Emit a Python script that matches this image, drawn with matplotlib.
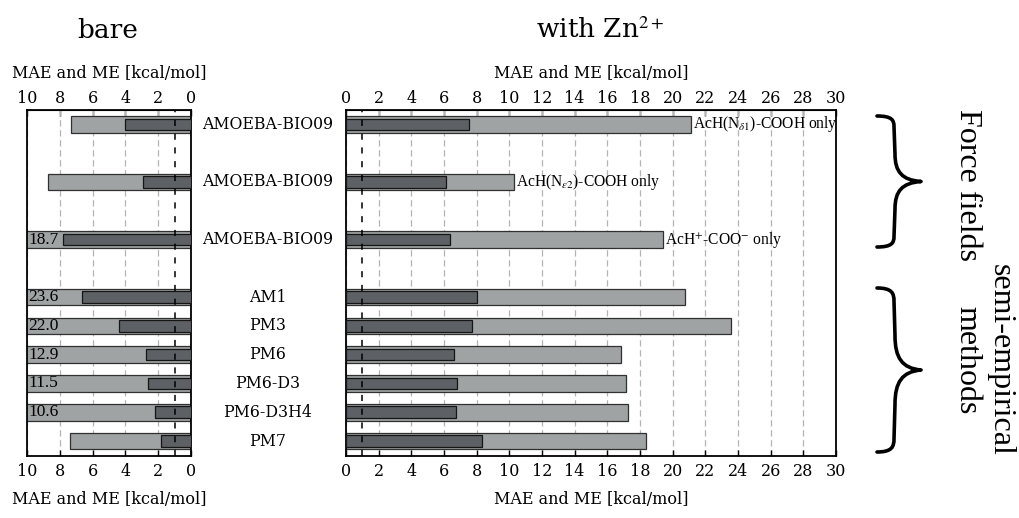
import matplotlib
matplotlib.use("Agg")
import matplotlib.pyplot as plt
from matplotlib.path import Path
from matplotlib.patches import PathPatch
from matplotlib.transforms import blended_transform_factory

# ---- data ---------------------------------------------------------------
methods = ["AMOEBA-BIO09", "AMOEBA-BIO09", "AMOEBA-BIO09",
           "AM1", "PM3", "PM6", "PM6-D3", "PM6-D3H4", "PM7"]
# vertical slot of each method (force fields get double spacing)
slots = [11, 9, 7, 5, 4, 3, 2, 1, 0]

bare_mae = [7.3, 8.7, 18.7, 23.6, 22.0, 12.9, 11.5, 10.6, 7.35]
bare_me = [4.0, 2.95, 7.8, 6.65, 4.4, 2.75, 2.6, 2.2, 1.8]

zn_mae = [21.1, 10.3, 19.4, 20.75, 23.55, 16.85, 17.15, 17.25, 18.35]
zn_me = [7.5, 6.15, 6.35, 8.0, 7.7, 6.6, 6.8, 6.75, 8.3]

zn_notes = [r"AcH(N$_{\delta1}$)-COOH only",
            r"AcH(N$_{\epsilon2}$)-COOH only",
            r"AcH$^{+}$-COO$^{-}$ only",
            "", "", "", "", "", ""]

bare_ticks = [10, 8, 6, 4, 2, 0]
zn_ticks = list(range(0, 31, 2))
xlabel = "MAE and ME [kcal/mol]"

# ---- style --------------------------------------------------------------
plt.rcParams["font.family"] = ["DejaVu Serif"]
plt.rcParams["mathtext.fontset"] = "stix"
light = "#a0a3a3"
dark = "#5d6165"
W, H = 1019, 518

fig = plt.figure(figsize=(W / 100, H / 100), dpi=100)


def fx(px):
    return px / W


def fy(py):
    return 1 - py / H


ax_l = fig.add_axes([fx(27), fy(456), fx(191) - fx(27), fy(110) - fy(456)])
ax_r = fig.add_axes([fx(346), fy(456), fx(836) - fx(346), fy(110) - fy(456)])


def draw_panel(ax, mae, me, xmax, ticks):
    ax.barh(slots, mae, height=0.58, color=light, edgecolor="#303030",
            linewidth=0.9, zorder=2)
    ax.barh(slots, me, height=0.40, color=dark, edgecolor="#151515",
            linewidth=0.9, zorder=3)
    ax.axvline(1, color="black", linestyle=(0, (4, 5)), linewidth=1.1, zorder=4)
    ax.set_xlim(0, xmax)
    ax.set_ylim(-0.52, 11.5)
    ax.set_yticks([])
    ax.set_xticks(ticks)
    ax.grid(axis="x", color="#b4b4b4", linestyle=(0, (5, 3)), linewidth=0.9, zorder=0)
    ax.set_axisbelow(True)
    for s in ax.spines.values():
        s.set_linewidth(1.3)
    ax.tick_params(axis="x", direction="in", length=4, width=1, labelsize=11.5,
                   pad=5, bottom=True, top=False)
    ax.set_xlabel(xlabel, fontsize=11.5, labelpad=8)
    top = ax.secondary_xaxis("top")
    top.set_xticks(ticks)
    top.tick_params(axis="x", direction="in", length=4, width=1, labelsize=11.5, pad=2)
    top.set_xlabel(xlabel, fontsize=11.5, labelpad=9)
    return top


draw_panel(ax_l, bare_mae, bare_me, 10, bare_ticks)
ax_l.invert_xaxis()
draw_panel(ax_r, zn_mae, zn_me, 30, zn_ticks)

# values that run past the left panel's range
for y, v in zip(slots, bare_mae):
    if v > 10:
        ax_l.text(9.93, y, f"{v:.1f}", ha="left", va="center",
                  fontsize=12.5, family="Liberation Serif", zorder=5)

# notes after the force-field bars
for y, v, note in zip(slots, zn_mae, zn_notes):
    if note:
        ax_r.text(v + 0.12, y, note, ha="left", va="center",
                  fontsize=11.2, family="Liberation Serif", zorder=5)

# method names between the panels
tr = blended_transform_factory(fig.transFigure, ax_l.transData)
for y, name in zip(slots, methods):
    fig.text(fx(268), y, name, transform=tr, ha="center", va="center",
             fontsize=11.3)

# panel titles
fig.text(fx(108), fy(30), "bare", ha="center", va="center", fontsize=19)
fig.text(fx(600), fy(30), r"with Zn$^{2+}$", ha="center", va="center", fontsize=19)


# ---- braces -------------------------------------------------------------
def brace(top, bot, xl, xm, xt):
    mid = (top + bot) / 2
    half = (bot - top) / 2
    re = 0.16 * half   # curl at the ends
    rt = 0.42 * half   # sweep into the tip
    pts = [
        (xl, top), (xm - 2, top), (xm, top + 0.4 * re), (xm, top + re),
        (xm + 1, mid - rt),
        (xm + 1, mid - 0.35 * rt), (xt - 0.7 * (xt - xm), mid - 0.05 * rt), (xt, mid),
        (xt - 0.7 * (xt - xm), mid + 0.05 * rt), (xm + 1, mid + 0.35 * rt), (xm + 1, mid + rt),
        (xm, bot - re),
        (xm, bot - 0.4 * re), (xm - 2, bot), (xl, bot),
    ]
    codes = [Path.MOVETO, Path.CURVE4, Path.CURVE4, Path.CURVE4,
             Path.LINETO,
             Path.CURVE4, Path.CURVE4, Path.CURVE4,
             Path.CURVE4, Path.CURVE4, Path.CURVE4,
             Path.LINETO,
             Path.CURVE4, Path.CURVE4, Path.CURVE4]
    verts = [(fx(x), fy(y)) for x, y in pts]
    fig.add_artist(PathPatch(Path(verts, codes), transform=fig.transFigure,
                             facecolor="none", edgecolor="black", linewidth=2.6,
                             capstyle="round", joinstyle="round"))


brace(116, 247, 877, 894, 921)
brace(288, 452, 877, 894, 921)

fig.text(fx(968), fy(185), "Force fields", rotation=-90, ha="center",
         va="center", fontsize=23, family="Liberation Serif")
fig.text(fx(984), fy(360), "semi-empirical\nmethods", rotation=-90,
         ha="center", va="center", multialignment="center",
         fontsize=23, family="Liberation Serif")

fig.savefig("out.png", dpi=100)
